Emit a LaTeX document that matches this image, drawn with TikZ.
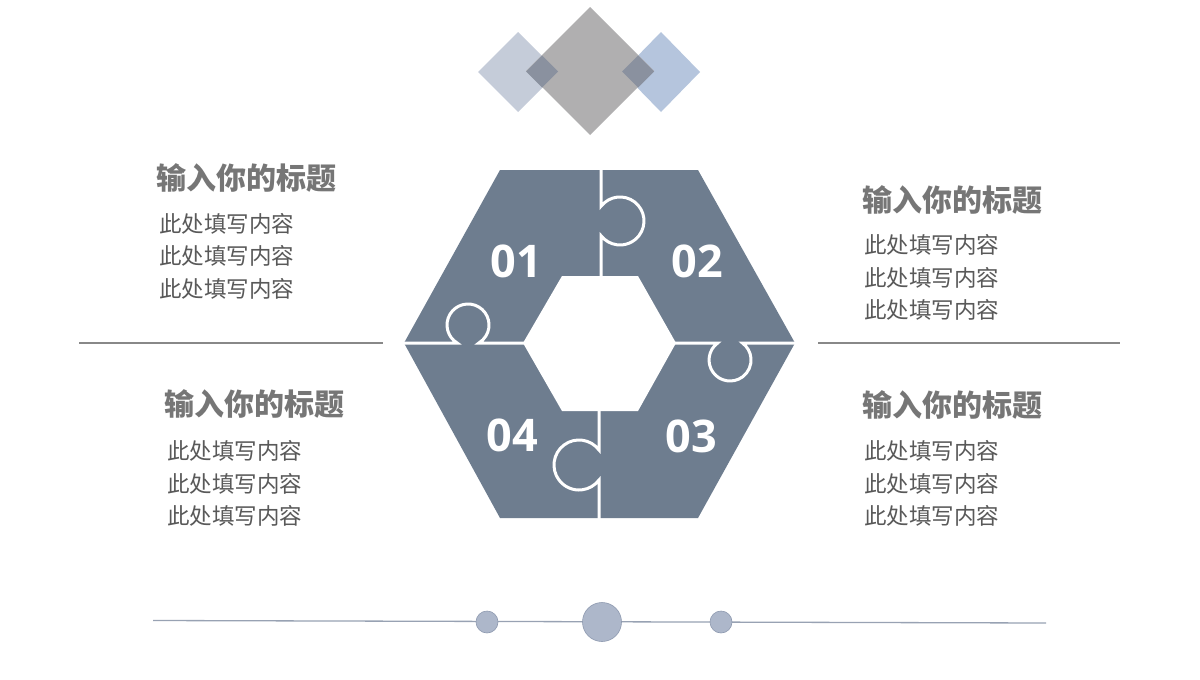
\documentclass[tikz,border=0pt]{standalone}
\usepackage{fontspec}
\newfontfamily\cjk{Noto Sans CJK SC}
\newfontfamily\numfont{Open Sans}
\definecolor{hexcol}{HTML}{6E7D8F}
\definecolor{dleft}{HTML}{C5CCD9}
\definecolor{dmid}{HTML}{B0AFB0}
\definecolor{dright}{HTML}{B5C5DD}
\definecolor{dover}{HTML}{8A919F}
\definecolor{titlecol}{HTML}{767676}
\definecolor{bodycol}{HTML}{595959}
\definecolor{sepcol}{HTML}{888888}
\definecolor{basecol}{HTML}{98A2B3}
\definecolor{dotfill}{HTML}{ADB7CA}
\definecolor{dotline}{HTML}{8E9AB0}
\tikzset{
  cut/.style={white, line width=3pt},
  num/.style={text=white, inner sep=0pt, font=\numfont\bfseries\fontsize{45}{50}\selectfont},
  ttl/.style={text=titlecol, inner sep=0pt, anchor=west, font=\cjk\bfseries\fontsize{30}{34}\selectfont},
  body/.style={text=bodycol, inner sep=0pt, anchor=west, font=\cjk\fontsize{22.5}{26}\selectfont},
  sep/.style={draw=sepcol, line width=1.3pt},
  dot/.style={circle, fill=dotfill, draw=dotline, line width=0.6pt, inner sep=0pt}
}
\begin{document}
\begin{tikzpicture}[x=1pt,y=-1pt]
\useasboundingbox (0,0) rectangle (1200,680);
\fill[white] (0,0) rectangle (1200,680);
% diamonds
\fill[dleft] (478,72)--(518,32)--(558,72)--(518,112)--cycle;
\fill[dright] (622,72)--(661,32)--(700,72)--(661,112)--cycle;
\fill[dmid] (526,71)--(590,7)--(654,71)--(590,135)--cycle;
\fill[dover] (526,71.5)--(542,55.5)--(558,71.5)--(542,87.5)--cycle;
\fill[dover] (622,71.5)--(638,55.5)--(654,71.5)--(638,87.5)--cycle;
% hexagon puzzle
\fill[hexcol] (500,170)--(698,170)--(795,343)--(698,518)--(500,518)--(404,343)--cycle;
\fill[white] (562,276)--(638,276)--(676,343)--(638,411)--(562,411)--(523,343)--cycle;
\draw[cut] (601,168) -- (601,206.3) arc[start angle=-142.3, end angle=142.3, radius=24] -- (601,277);
\draw[cut] (599,410) -- (599,450) arc[start angle=-36.87, end angle=-323.13, radius=25] -- (599,520);
\draw[cut] (402,343) -- (457.2,343) arc[start angle=121, end angle=419, radius=21] -- (524,343);
\draw[cut] (675,343) -- (717.7,343) arc[start angle=234, end angle=-54, radius=21] -- (797,343);
\node[num] (n1) at (516,261) {01};
\node[num] (n2) at (697,261) {02};
\node[num] (n3) at (691,436) {03};
\node[num] (n4) at (512,435) {04};
% separators
\coordinate (sl1) at (79,343); \coordinate (sl2) at (383,343);
\coordinate (sr1) at (818,343); \coordinate (sr2) at (1120,343);
\draw[sep] (sl1) -- (sl2);
\draw[sep] (sr1) -- (sr2);
% text blocks
\node[ttl] (tA) at (156,178) {输入你的标题};
\node[body] (bA1) at (159,224) {此处填写内容};
\node[body] (bA2) at (159,256) {此处填写内容};
\node[body] (bA3) at (159,288.5) {此处填写内容};
\node[ttl] (tB) at (862,200) {输入你的标题};
\node[body] (bB1) at (864,245) {此处填写内容};
\node[body] (bB2) at (864,277.5) {此处填写内容};
\node[body] (bB3) at (864,310) {此处填写内容};
\node[ttl] (tC) at (164,404) {输入你的标题};
\node[body] (bC1) at (167,451) {此处填写内容};
\node[body] (bC2) at (167,483.5) {此处填写内容};
\node[body] (bC3) at (167,516) {此处填写内容};
\node[ttl] (tD) at (862,405) {输入你的标题};
\node[body] (bD1) at (864,451) {此处填写内容};
\node[body] (bD2) at (864,483.5) {此处填写内容};
\node[body] (bD3) at (864,516) {此处填写内容};
% bottom line with dots
\coordinate (bl1) at (153,620.5);
\coordinate (bl2) at (1046,623);
\draw[draw=basecol, line width=1.3pt] (bl1) -- (bl2);
\node[dot, minimum size=22pt] (d1) at (487,622) {};
\node[dot, minimum size=39pt] (d2) at (602,622) {};
\node[dot, minimum size=22pt] (d3) at (721,622) {};
\end{tikzpicture}
\end{document}
